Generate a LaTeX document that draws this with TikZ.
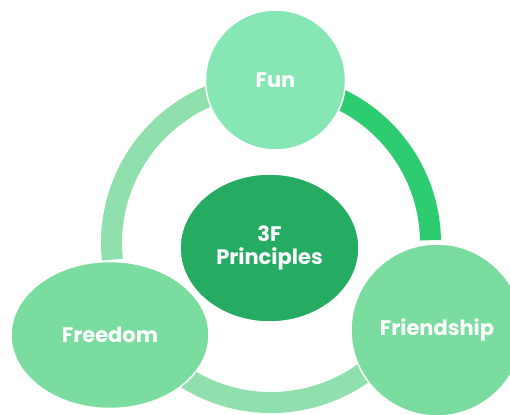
\documentclass[tikz,border=0pt]{standalone}
\usepackage{fontspec}
\setmainfont{Poppins}[UprightFont=* SemiBold,BoldFont=* Bold]
\usetikzlibrary{shapes.geometric}
\definecolor{funcol}{HTML}{86E7B5}
\definecolor{sidecol}{HTML}{7BDCA0}
\definecolor{centcol}{HTML}{26AB63}
\definecolor{brightarc}{HTML}{2ECC71}
\definecolor{lightarc}{HTML}{8FE0AC}
\tikzset{
  bubble/.style={draw=white, line width=1.5pt, inner sep=0pt, text=white,
    font=\bfseries\fontsize{21}{23}\selectfont, align=center},
  ringarc/.style={line width=21pt, line cap=butt},
}
\begin{document}
\begin{tikzpicture}[x=1pt,y=-1pt]
\useasboundingbox (0,0) rectangle (510,414);
\clip (0,0) rectangle (510,414);
\coordinate (ring) at (271,243);
% ring segments
\draw[ringarc, lightarc] (ring) ++(174:159.5) arc[start angle=174, end angle=270, radius=159.5];
\draw[ringarc, brightarc] (ring) ++(-90:159.5) arc[start angle=-90, end angle=-1, radius=159.5];
\draw[ringarc, lightarc] (ring) ++(25:159.5) arc[start angle=25, end angle=155, radius=159.5];
% nodes
\node[bubble, circle, fill=funcol, minimum size=140pt] (fun) at (275.5,80) {Fun};
\node[bubble, ellipse, fill=centcol, minimum width=179pt, minimum height=148pt] (center) at (269.5,248) {3F\\Principles};
\node[bubble, ellipse, fill=sidecol, minimum width=198pt, minimum height=147pt] (freedom) at (110,335) {Freedom};
\node[bubble, circle, fill=sidecol, minimum size=172pt] (friendship) at (437,330) {Friendship};
\end{tikzpicture}
\end{document}
